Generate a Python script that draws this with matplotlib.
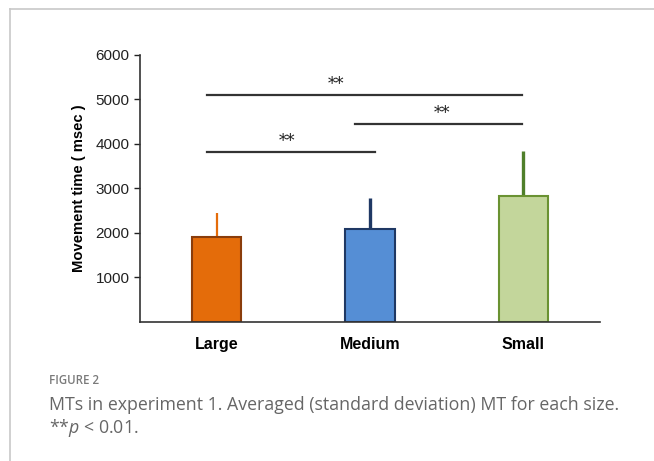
import numpy as np
import matplotlib
matplotlib.use("Agg")
from matplotlib import pyplot as plt
from matplotlib.lines import Line2D

plt.rcParams['font.family'] = ['Liberation Sans', 'DejaVu Sans']
plt.rcParams['mathtext.fontset'] = 'custom'
plt.rcParams['mathtext.rm'] = 'Open Sans'
plt.rcParams['mathtext.it'] = 'Open Sans:italic'

sizes = ["Large", "Medium", "Small"]
mean_mt = [1912, 2079, 2836]
sd_mt = [541, 711, 1013]
fill_colors = ["#E46C0A", "#558ED5", "#C3D69B"]
edge_colors = ["#8A3D0B", "#1F3864", "#6A9232"]
err_colors = ["#E46C0A", "#1F3864", "#4F7F2A"]
err_widths = [1.6, 2.4, 2.4]

# significance brackets: (x start, x end, y, label x)
sig_x0 = [-0.06, -0.06, 0.905]
sig_x1 = [1.03, 1.99, 1.99]
sig_y = [3827, 5097, 4444]
sig_label = ["**", "**", "**"]
sig_label_x = [0.46, 0.78, 1.47]

fig = plt.figure(figsize=(6.54, 4.61), dpi=100)

# frame of the figure panel
fig.add_artist(Line2D([10/654, 10/654], [0, 1 - 9/461], color="#c8c8c8", lw=1.2))
fig.add_artist(Line2D([10/654, 1], [1 - 9/461, 1 - 9/461], color="#c8c8c8", lw=1.2))

ax = fig.add_axes([140/654, 139.4/461, 460/654, 266.6/461])
x = np.arange(len(sizes))
for i in range(len(sizes)):
    ax.bar(x[i], mean_mt[i], width=0.32, color=fill_colors[i],
           edgecolor=edge_colors[i], linewidth=1.5, zorder=2)
    ax.errorbar(x[i], mean_mt[i], yerr=[[0], [sd_mt[i]]], fmt='none',
                ecolor=err_colors[i], elinewidth=err_widths[i], capsize=0, zorder=1)

for i in range(len(sig_y)):
    ax.plot([sig_x0[i], sig_x1[i]], [sig_y[i], sig_y[i]], color="#333333", lw=1.6)
    ax.text(sig_label_x[i], sig_y[i] + 40, sig_label[i], ha='center', va='bottom',
            fontsize=12, color="#222222", family='DejaVu Serif')

ax.set_xlim(-0.5, 2.5)
ax.set_ylim(0, 6000)
ax.set_yticks([1000, 2000, 3000, 4000, 5000, 6000])
ax.tick_params(axis='y', labelsize=11, length=4, width=1, colors="#222222")
ax.tick_params(axis='x', length=0, pad=11)
ax.set_xticks(x)
ax.set_xticklabels(sizes, fontsize=11.5, fontweight='bold')
ax.set_ylabel("Movement time ( msec )", fontsize=10.6, fontweight='bold', labelpad=7)
ax.spines['right'].set_visible(False)
ax.spines['top'].set_visible(False)
for s in ['left', 'bottom']:
    ax.spines[s].set_color("#333333")
    ax.spines[s].set_linewidth(1.2)

fig.text(49/654, 1 - 380/461, "FIGURE 2", family='Open Sans', fontsize=8.3,
         color="#7a7a7a", va='center', fontweight='semibold')
fig.text(49/654, 1 - 405/461,
         "MTs in experiment 1. Averaged (standard deviation) MT for each size.",
         family='Open Sans', fontsize=12.8, color="#666666", va='center')
fig.text(49/654, 1 - 428/461, r"**$p$ < 0.01.", family='Open Sans',
         fontsize=12.8, color="#666666", va='center')

fig.savefig("out.png", dpi=100)
